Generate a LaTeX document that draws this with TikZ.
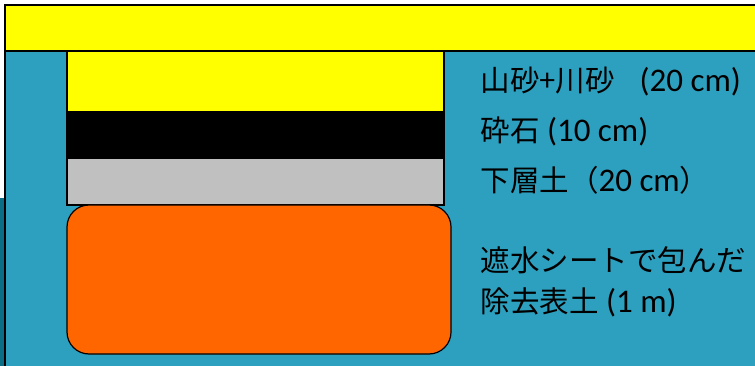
\documentclass[tikz,border=0pt]{standalone}
\usepackage{fontspec}
\setmainfont{Carlito}
\newfontfamily\cjk{Noto Sans CJK JP}
\newcommand\jp[1]{{\cjk\fontsize{29.5}{34}\selectfont #1}}
\definecolor{seablue}{RGB}{44,160,190}
\definecolor{deepteal}{RGB}{12,110,132}
\definecolor{sandyellow}{RGB}{255,255,0}
\definecolor{layergray}{RGB}{192,192,192}
\definecolor{soilorange}{RGB}{255,102,0}
\tikzset{layertext/.style={anchor=base west,inner sep=0pt,font=\fontsize{33}{38}\selectfont}}
\begin{document}
\begin{tikzpicture}[x=1pt,y=-1pt,line width=1.2pt]
 \useasboundingbox (0,0) rectangle (755,366);
 \clip (0,0) rectangle (755,366);
 % background
 \fill[deepteal] (0,198) rectangle (5,370);
 \draw[fill=seablue] (5,51) rectangle (770,380);
 \draw[fill=sandyellow] (5,5) rectangle (770,51);
 % layers
 \draw[fill=sandyellow] (67,51) rectangle (444,112);
 \draw[fill=black] (67,112) rectangle (444,158);
 \draw[fill=layergray] (67,158) rectangle (444,205);
 \draw[fill=soilorange,rounded corners=22pt] (67,205) rectangle (451,354);
 % labels
 \node[layertext] (sand) at (480,92) {\jp{山砂+川砂}\hspace{0.75em}(20 cm)};
 \node[layertext] (gravel) at (480,142) {\jp{砕石} (10 cm)};
 \node[layertext] (subsoil) at (480,192) {\jp{下層土（}20 cm\jp{）}};
 \node[layertext] (wasteA) at (480,272) {\jp{遮水シートで包んだ}};
 \node[layertext] (wasteB) at (480,312) {\jp{除去表土} (1 m)};
\end{tikzpicture}
\end{document}
